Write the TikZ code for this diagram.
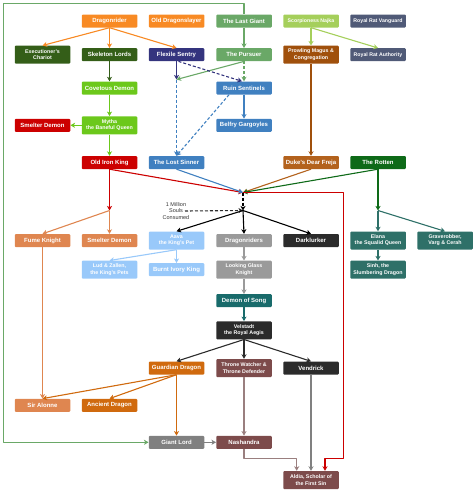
\documentclass[tikz,border=0pt]{standalone}
\usepackage{fontspec}
\setmainfont{Liberation Sans}
\usetikzlibrary{arrows.meta,calc}
\definecolor{cOrange}{HTML}{F88A24}
\definecolor{cDkGreen}{HTML}{345E18}
\definecolor{cNavy}{HTML}{34347E}
\definecolor{cGreen}{HTML}{6AA867}
\definecolor{cLimeL}{HTML}{A5CF5B}
\definecolor{cRat}{HTML}{505A77}
\definecolor{cBrown}{HTML}{A0500C}
\definecolor{cBrown2}{HTML}{B3621D}
\definecolor{cLime}{HTML}{6CC81B}
\definecolor{cRed}{HTML}{CC0000}
\definecolor{cSteel}{HTML}{4080C0}
\definecolor{cRotten}{HTML}{0E6A18}
\definecolor{cTerra}{HTML}{DF8650}
\definecolor{cLBlue}{HTML}{99C9FA}
\definecolor{cGray}{HTML}{9A9A9A}
\definecolor{cGrayD}{HTML}{808080}
\definecolor{cBlack}{HTML}{2B2B2B}
\definecolor{cDoS}{HTML}{196B6B}
\definecolor{cTeal}{HTML}{2E7068}
\definecolor{cGuard}{HTML}{D06A0E}
\definecolor{cMauve}{HTML}{7D4B4B}
\definecolor{cMauveL}{HTML}{9A7F7F}
\definecolor{cText}{HTML}{333333}
\tikzset{
  box/.style={rectangle, rounded corners=1pt, minimum width=55.5pt, minimum height=13pt,
    inner sep=0.5pt, align=center, text=white, font=\fontsize{6}{7}\selectfont\bfseries},
  boxtwo/.style={box, minimum height=18pt, font=\fontsize{5.3}{6.2}\selectfont\bfseries},
  smallfont/.style={font=\fontsize{5.2}{6}\selectfont\bfseries},
  edge/.style={line width=1.1pt, line join=round, -{Stealth[length=4.5pt,width=5pt,inset=1.2pt]}},
  dsh/.style={dash pattern=on 3pt off 2pt},
  soulstext/.style={align=center, text=cText, inner sep=0.5pt, font=\fontsize{5.5}{6.2}\selectfont}
}
\begin{document}
\begin{tikzpicture}[x=1pt,y=-1pt]
\useasboundingbox (0,0) rectangle (474,490);
% row 1
\node[box, fill=cOrange] (dragonrider) at (109.5,21) {Dragonrider};
\node[box, fill=cOrange] (olddragonslayer) at (176.5,21) {Old Dragonslayer};
\node[box, fill=cGreen] (lastgiant) at (244,21) {The Last Giant};
\node[box, smallfont, fill=cLimeL] (najka) at (311,21) {Scorpioness Najka};
\node[box, smallfont, fill=cRat] (vanguard) at (378,21) {Royal Rat Vanguard};
% row 2
\node[boxtwo, fill=cDkGreen] (chariot) at (42.5,54.7) {Executioner's\\Chariot};
\node[box, fill=cDkGreen] (skeleton) at (109.5,54.7) {Skeleton Lords};
\node[box, fill=cNavy] (flexile) at (176.5,54.7) {Flexile Sentry};
\node[box, fill=cGreen] (pursuer) at (244,54.7) {The Pursuer};
\node[boxtwo, fill=cBrown] (magus) at (311,54.7) {Prowling Magus \&\\Congregation};
\node[box, smallfont, fill=cRat] (ratauth) at (378,54.7) {Royal Rat Authority};
% row 3
\node[box, fill=cLime] (covetous) at (109.5,88) {Covetous Demon};
\node[box, fill=cSteel] (ruin) at (244,88) {Ruin Sentinels};
% row 4
\node[box, fill=cRed] (smelterred) at (42.5,125.3) {Smelter Demon};
\node[boxtwo, fill=cLime] (mythe) at (109.5,125.3) {Mytha\\the Baneful Queen};
\node[box, fill=cSteel] (belfry) at (244,125.3) {Belfry Gargoyles};
% row 5
\node[box, fill=cRed] (oldironking) at (109.5,162.5) {Old Iron King};
\node[box, fill=cSteel] (lostsinner) at (176.5,162.5) {The Lost Sinner};
\node[box, fill=cBrown2] (freja) at (311,162.5) {Duke's Dear Freja};
\node[box, fill=cRotten] (rotten) at (378,162.5) {The Rotten};
% row 6
\node[box, fill=cTerra] (fume) at (42.5,240.5) {Fume Knight};
\node[box, fill=cTerra] (smeltero) at (109.5,240.5) {Smelter Demon};
\node[boxtwo, fill=cLBlue] (aava) at (176.5,240.5) {Aava\\the King's Pet};
\node[box, fill=cGray] (dragonriders) at (244,240.5) {Dragonriders};
\node[box, fill=cBlack] (darklurker) at (311,240.5) {Darklurker};
\node[boxtwo, fill=cTeal] (elana) at (378,240.5) {Elana\\the Squalid Queen};
\node[boxtwo, fill=cTeal] (graverobber) at (445,240.5) {Graverobber,\\Varg \& Cerah};
% row 7
\node[boxtwo, fill=cLBlue] (lostzallen) at (109.5,269.7) {Lud \& Zallen,\\the King's Pets};
\node[box, fill=cLBlue] (burnt) at (176.5,269.7) {Burnt Ivory King};
\node[boxtwo, fill=cGray] (lookingglass) at (244,269.7) {Looking Glass\\Knight};
\node[boxtwo, fill=cTeal] (sinh) at (378,269.7) {Sinh, the\\Slumbering Dragon};
% row 8-9
\node[box, fill=cDoS] (demonsong) at (244,300.7) {Demon of Song};
\node[boxtwo, fill=cBlack] (velstadt) at (244,330.3) {Velstadt\\the Royal Aegis};
% row 10
\node[box, fill=cGuard] (guardian) at (176.5,368) {Guardian Dragon};
\node[boxtwo, fill=cMauve] (thronewatcher) at (244,368) {Throne Watcher \&\\Throne Defender};
\node[box, fill=cBlack] (vendrick) at (311,368) {Vendrick};
% row 11
\node[box, fill=cTerra] (alonne) at (42.5,405.3) {Sir Alonne};
\node[box, fill=cGuard] (ancient) at (109.5,405.3) {Ancient Dragon};
% row 12
\node[box, fill=cGrayD] (giantlord) at (176.5,442.3) {Giant Lord};
\node[box, fill=cMauve] (nashandra) at (244,442.3) {Nashandra};
% row 13
\node[boxtwo, fill=cMauve] (aldia) at (311,480) {Aldia, Scholar of\\the First Sin};
% souls text
\node[soulstext] (souls) at (176,211) {1 Million\\Souls\\Consumed};
% junction coordinates
\coordinate (fsj) at (176.5,79.5);
\coordinate (m1) at (243,192.5);
\coordinate (m2) at (243,210.5);
\coordinate (oib) at (109.5,210.5);
\coordinate (rb) at (378,210.5);
\coordinate (n1) at (296.7,458.3);
\coordinate (r1) at (343.3,458.3);
\coordinate (r2) at (325,458.3);
\coordinate (g1) at (3.3,3.3);
% edges
\draw[edge, cGreen] (lastgiant.north) |- (g1) |- (giantlord.west);
\draw[edge, cOrange] (dragonrider.south) -- (chariot.north);
\draw[edge, cOrange] (dragonrider.south) -- (skeleton.north);
\draw[edge, cOrange] (dragonrider.south) -- (flexile.north);
\draw[edge, cDkGreen] (skeleton) -- (covetous);
\draw[edge, cLime] (covetous) -- (mythe);
\draw[edge, cLime] (mythe) -- (smelterred);
\draw[edge, cLime] (mythe) -- (oldironking);
\draw[edge, cNavy] (flexile.south) -- (fsj);
\draw[edge, cGreen] (pursuer.south) -- (fsj);
\draw[edge, cSteel, dsh] (fsj) -- (lostsinner.north);
\draw[edge, cNavy, dsh] ([xshift=2pt]flexile.south) -- ([xshift=-2pt]ruin.north);
\draw[edge, cGreen, dsh] (pursuer) -- (ruin);
\draw[edge, cGreen] (lastgiant) -- (pursuer);
\draw[edge, cSteel] (ruin) -- (belfry);
\draw[edge, cSteel, dsh] ([xshift=13pt]ruin.south west) -- (lostsinner.north);
\draw[edge, cLimeL] (najka.south) -- (magus.north);
\draw[edge, cLimeL] (najka.south) -- (ratauth.north);
\draw[edge, cBrown] (magus) -- (freja);
\draw[edge, cRed] (oldironking.south) -- (m1);
\draw[edge, cSteel] (lostsinner.south) -- (m1);
\draw[edge, cBrown2] (freja.south) -- (m1);
\draw[edge, cRotten] (rotten.south) -- (m1);
\draw[edge, black, dsh] (m1) -- (m2);
\draw[edge, cBlack, dsh] ([xshift=-5pt]souls.east) -- (m2);
\draw[edge, black] (m2) -- (aava.north);
\draw[edge, black] (m2) -- (dragonriders.north);
\draw[edge, black] (m2) -- (darklurker.north);
\draw[edge, cRed] (oldironking) -- (oib);
\draw[edge, cTerra] (oib) -- (fume.north);
\draw[edge, cTerra] (oib) -- (smeltero.north);
\draw[edge, cRotten] (rotten) -- (rb);
\draw[edge, cTeal] (rb) -- (elana.north);
\draw[edge, cTeal] (rb) -- (graverobber.north);
\draw[edge, cTeal] (elana) -- (sinh);
\draw[edge, cLBlue] (aava.south) -- (lostzallen.north);
\draw[edge, cLBlue] (aava) -- (burnt);
\draw[edge, cGray] (dragonriders) -- (lookingglass);
\draw[edge, cGray] (lookingglass) -- (demonsong);
\draw[edge, cDoS] (demonsong) -- (velstadt);
\draw[edge, cBlack] (velstadt.south) -- (guardian.north);
\draw[edge, cBlack] (velstadt.south) -- (thronewatcher.north);
\draw[edge, cBlack] (velstadt.south) -- (vendrick.north);
\draw[edge, cGuard] (guardian.south) -- (alonne.north);
\draw[edge, cGuard] (guardian.south) -- (ancient.north);
\draw[edge, cGuard] (guardian) -- (giantlord);
\draw[edge, cTerra] (fume) -- (alonne);
\draw[edge, cGrayD] (giantlord) -- (nashandra);
\draw[edge, cMauveL] (thronewatcher) -- (nashandra);
\draw[edge, cMauveL] (nashandra.south) |- (n1) -- (n1 |- aldia.north);
\draw[edge, cGrayD] (vendrick) -- (aldia);
\draw[edge, cRed] (m1) -| (r1) -- (r2) -- (r2 |- aldia.north);
\end{tikzpicture}
\end{document}
